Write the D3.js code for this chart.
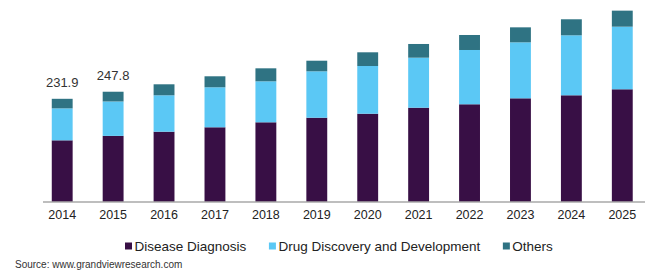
<!DOCTYPE html>
<html>
<head>
<meta charset="utf-8">
<script src="https://cdn.jsdelivr.net/npm/d3@7"></script>
<style>
  html, body { margin: 0; padding: 0; background: #fff; }
  svg { display: block; font-family: "Liberation Sans", Arial, sans-serif; }
</style>
</head>
<body>
<svg id="chart" width="646" height="273"></svg>
<script>
// ---- Data (USD million)
const years = ['2014', '2015', '2016', '2017', '2018', '2019', '2020', '2021', '2022', '2023', '2024', '2025'];
const diseaseDiagnosis = [138.6, 148.6, 158.0, 167.9, 179.1, 189.4, 198.4, 211.9, 219.6, 233.0, 239.8, 253.3];
const drugDiscovery = [71.8, 77.3, 81.8, 89.9, 92.1, 104.3, 107.2, 112.4, 122.0, 125.8, 134.8, 140.7];
const others = [21.5, 21.9, 24.7, 24.7, 29.2, 23.8, 30.8, 30.8, 33.7, 33.7, 36.0, 36.0];
const seriesNames = ['Disease Diagnosis', 'Drug Discovery and Development', 'Others'];
const totalLabels = { '2014': '231.9', '2015': '247.8' };

const colors = ['#380f45', '#5bc8f5', '#2f7383'];

const svg = d3.select('#chart');
const baseY = 202;

const table = years.map((y, i) => ({
    year: y,
    s0: diseaseDiagnosis[i],
    s1: drugDiscovery[i],
    s2: others[i]
}));

const stack = d3.stack().keys(['s0', 's1', 's2'])(table);

const x = d3.scaleBand()
    .domain(years)
    .range([36.75, 647.75])
    .paddingInner(0.59)
    .paddingOuter(0.295);

const y = d3.scaleLinear()
    .domain([0, baseY / 0.445])
    .range([baseY, 0]);

// ---- Bars
svg.append('g')
    .selectAll('g')
    .data(stack)
    .join('g')
    .attr('fill', (d, i) => colors[i])
    .selectAll('rect')
    .data(d => d)
    .join('rect')
    .attr('x', d => x(d.data.year))
    .attr('y', d => y(d[1]))
    .attr('height', d => y(d[0]) - y(d[1]))
    .attr('width', x.bandwidth());

// ---- Total labels
svg.append('g')
    .selectAll('text')
    .data(table.filter(d => totalLabels[d.year]))
    .join('text')
    .attr('x', d => x(d.year) + x.bandwidth() / 2)
    .attr('y', d => y(d.s0 + d.s1 + d.s2) - 12)
    .attr('text-anchor', 'middle')
    .attr('font-size', '13px')
    .attr('fill', '#333')
    .text(d => totalLabels[d.year]);

// ---- X axis
const xAxis = svg.append('g')
    .attr('transform', `translate(0, ${baseY})`)
    .call(d3.axisBottom(x).tickSize(0).tickPadding(8));
xAxis.select('.domain').remove();
xAxis.selectAll('text')
    .attr('font-size', '12.5px')
    .attr('font-family', '"Liberation Sans", Arial, sans-serif')
    .attr('fill', '#222');

svg.append('line')
    .attr('x1', 43).attr('x2', 645)
    .attr('y1', baseY).attr('y2', baseY)
    .attr('stroke', '#a8a8a8')
    .attr('stroke-width', 1.5);

// ---- Legend
const legend = svg.append('g');
let lx = 125;
seriesNames.forEach((name, i) => {
    legend.append('rect')
        .attr('x', lx).attr('y', 242.5)
        .attr('width', 7).attr('height', 7)
        .attr('fill', colors[i]);
    const t = legend.append('text')
        .attr('x', lx + 9.5).attr('y', 251)
        .attr('font-size', '13.5px')
        .attr('fill', '#222')
        .text(name);
    lx += 9.5 + t.node().getComputedTextLength() + 22.6;
});

// ---- Source
svg.append('text')
    .attr('x', 15).attr('y', 267.5)
    .attr('font-size', '10px')
    .attr('fill', '#333')
    .text('Source: www.grandviewresearch.com');
</script>
</body>
</html>
